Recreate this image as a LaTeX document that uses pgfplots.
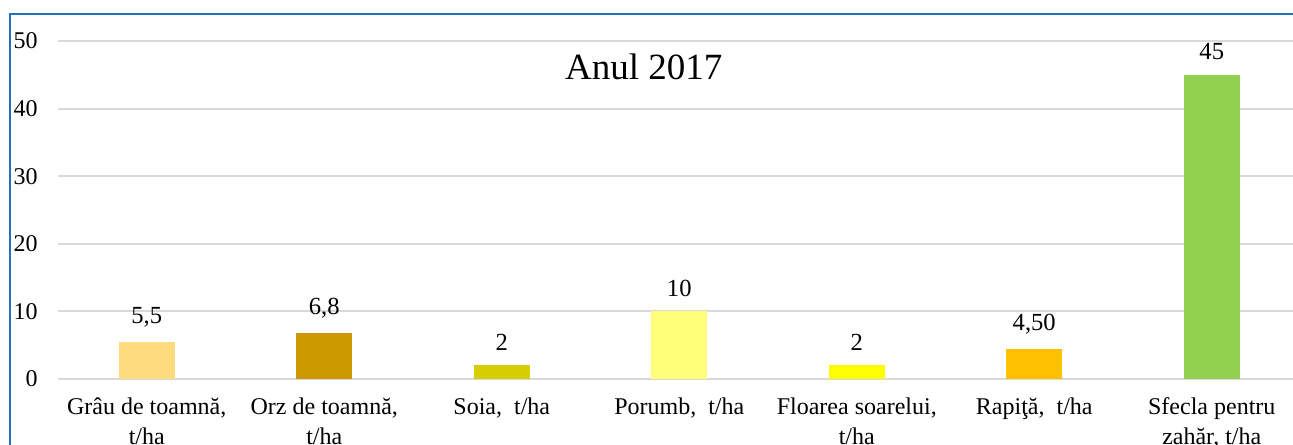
\documentclass[border=0pt]{standalone}
\usepackage{pgfplots}
\pgfplotsset{compat=1.18}
\usepackage{fontspec}
\setmainfont{Liberation Serif}
\definecolor{cA}{HTML}{FFDC7F}
\definecolor{cB}{HTML}{CC9900}
\definecolor{cC}{HTML}{D6CE00}
\definecolor{cD}{HTML}{FFFF7A}
\definecolor{cE}{HTML}{FFFF00}
\definecolor{cF}{HTML}{FFC000}
\definecolor{cG}{HTML}{92D050}
\definecolor{gridc}{HTML}{D9D9D9}
\definecolor{frame}{RGB}{30,115,190}
\begin{document}
\begin{tikzpicture}
\useasboundingbox (0,0) rectangle (646.5pt,222pt);
\clip (0,0) rectangle (646.5pt,222pt);
\draw[frame, line width=1.1pt] (5pt,-20pt) -- (5pt,215pt) -- (700pt,215pt);
\begin{axis}[
  at={(29pt,32.5pt)}, anchor=south west,
  scale only axis, width=621.25pt, height=169pt,
  xmin=-0.5, xmax=6.5, ymin=0, ymax=50,
  ytick={0,10,20,30,40,50},
  xtick={0,1,2,3,4,5,6},
  xticklabels={{Grâu de toamnă,\\t/ha},{Orz de toamnă,\\t/ha},{Soia,\ \ t/ha},{Porumb,\ \ t/ha},{Floarea soarelui,\\t/ha},{Rapiţă,\ \ t/ha},{Sfecla pentru\\zahăr, t/ha}},
  major tick length=0pt,
  ymajorgrids, grid style={gridc, line width=1pt},
  axis x line=bottom, axis y line=left,
  x axis line style={gridc, line width=1pt, -},
  y axis line style={draw=none},
  /pgf/number format/assume math mode=true,
  yticklabel style={font=\fontsize{12}{13}\selectfont, anchor=east, inner sep=0pt, xshift=-10pt},
  xticklabel style={font=\fontsize{12}{15}\selectfont, align=center, anchor=north, inner sep=0pt, yshift=-9pt},
  ybar, bar width=28pt,
  every node near coord/.append style={font=\fontsize{12.3}{13}\selectfont, text=black, yshift=3.8pt},
  clip=false,
]
\addplot[fill=cA, draw=none, bar shift=0pt, nodes near coords={5,5}] coordinates {(0,5.5)};
\addplot[fill=cB, draw=none, bar shift=0pt, nodes near coords={6,8}] coordinates {(1,6.8)};
\addplot[fill=cC, draw=none, bar shift=0pt, nodes near coords={2}] coordinates {(2,2)};
\addplot[fill=cD, draw=none, bar shift=0pt, nodes near coords={10}] coordinates {(3,10)};
\addplot[fill=cE, draw=none, bar shift=0pt, nodes near coords={2}] coordinates {(4,2)};
\addplot[fill=cF, draw=none, bar shift=0pt, nodes near coords={4,50}] coordinates {(5,4.5)};
\addplot[fill=cG, draw=none, bar shift=0pt, nodes near coords={45}] coordinates {(6,45)};
\node[font=\fontsize{18.5}{20}\selectfont] at (axis cs:2.8,46.2) {Anul 2017};
\end{axis}
\end{tikzpicture}
\end{document}
